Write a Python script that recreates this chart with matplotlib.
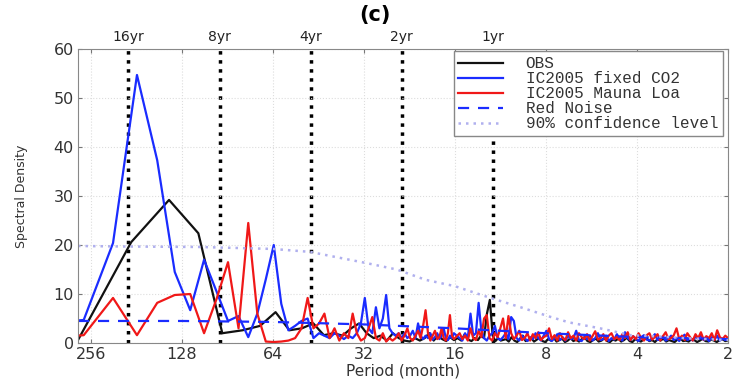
import numpy as np
import matplotlib.pyplot as plt
import matplotlib.transforms as mtransforms

# frequency grids: model runs (1080 months) and observations (564 months)
model_k = np.arange(3, 68)
obs_k = np.arange(2, 51)

# IC2005 fixed CO2 (blue), low-frequency bins k=3..67
blue_low = [4.0, 4.7, 20.4, 54.7, 37.3, 14.5, 6.7, 17.0, 10.5, 4.5,
            5.5, 1.2, 6.0, 13.0, 20.0, 8.0, 2.6, 3.5, 4.5, 5.0,
            1.0, 2.0, 1.5, 1.0, 2.0, 1.5, 0.8, 1.5, 1.0, 2.0,
            4.0, 9.2, 3.0, 2.0, 7.3, 3.0, 5.0, 9.8, 3.0, 2.0,
            1.5, 2.0, 1.0, 2.0, 1.0, 1.5, 2.5, 1.0, 4.0, 1.5,
            0.8, 1.5, 1.0, 2.0, 0.7, 1.2, 2.0, 0.8, 1.5, 3.0,
            1.0, 0.6, 1.5, 1.0, 2.0]
# high-frequency part (period 15.4 -> 2 months)
blue_high = [1.0, 0.5, 2.0, 1.0, 6.0, 1.5, 2.0, 8.2, 2.5, 1.0,
             0.5, 1.5, 2.0, 3.5, 1.0, 0.6, 1.2, 2.0, 0.8, 5.3,
             4.5, 1.0, 0.5, 1.5, 1.0, 0.4, 1.2, 0.8, 2.0, 1.0,
             0.5, 1.5, 2.5, 0.8, 0.4, 1.0, 1.8, 0.6, 1.2, 0.5,
             1.5, 0.8, 1.0, 2.5, 0.6, 0.4, 1.2, 0.8, 1.6, 0.5,
             1.0, 2.0, 0.6, 0.8, 1.5, 0.4, 1.0, 0.7, 1.8, 0.9,
             0.5, 2.2, 1.0, 0.6, 1.4, 0.8, 0.4, 1.2, 1.6, 0.7,
             0.5, 1.0, 1.8, 0.6, 0.9, 1.3, 0.5, 0.8, 1.5, 0.6,
             1.0, 0.4, 1.2, 1.7, 0.6, 0.9, 0.5, 1.3, 0.8, 1.6,
             0.6, 1.0, 0.4, 1.2, 0.7, 1.5, 0.5, 0.9, 0.6, 0.8]

# IC2005 Mauna Loa (red)
red_low = [1.0, 1.6, 9.2, 1.6, 8.2, 9.8, 10.0, 2.0, 9.0, 16.5,
           3.0, 24.5, 6.0, 0.3, 0.2, 0.3, 0.5, 1.0, 3.0, 9.2,
           3.0, 4.0, 6.0, 1.0, 3.0, 0.5, 2.0, 1.0, 6.0, 2.0,
           0.5, 1.0, 3.0, 5.3, 1.0, 0.5, 2.0, 0.3, 1.0, 0.5,
           1.0, 2.0, 0.5, 1.5, 3.0, 1.0, 0.5, 1.5, 2.5, 1.0,
           3.5, 6.7, 2.0, 0.5, 1.5, 2.5, 0.8, 1.2, 3.0, 1.0,
           0.5, 2.0, 5.7, 1.5, 0.8]
red_high = [2.0, 0.8, 1.5, 0.5, 3.0, 1.0, 0.6, 2.5, 1.2, 5.0,
            5.7, 1.0, 0.5, 2.0, 1.2, 3.0, 5.0, 1.0, 5.5, 2.0,
            0.8, 1.5, 2.5, 0.6, 1.0, 2.0, 0.5, 1.8, 1.0, 2.2,
            0.6, 1.2, 1.5, 3.0, 0.8, 1.6, 0.5, 2.0, 1.0, 0.6,
            2.2, 1.0, 1.5, 0.5, 2.0, 1.2, 0.8, 1.8, 0.5, 1.4,
            2.4, 0.7, 1.0, 1.8, 0.5, 1.5, 2.0, 0.8, 1.2, 0.6,
            1.8, 1.0, 2.2, 0.6, 1.4, 0.8, 2.0, 1.0, 0.5, 1.6,
            2.0, 0.7, 1.2, 1.8, 0.5, 1.4, 2.2, 0.8, 1.0, 1.6,
            3.0, 0.8, 1.5, 0.6, 2.0, 1.2, 0.5, 1.8, 1.0, 2.2,
            0.7, 1.4, 1.0, 2.0, 0.6, 2.6, 1.2, 0.8, 1.5, 1.0]

# OBS (black), k=2..50
obs_low = [0.6, 20.6, 29.2, 22.4, 2.0, 2.6, 3.5, 6.3, 2.6, 3.0,
           4.0, 1.6, 2.0, 1.5, 3.0, 4.0, 2.0, 1.0, 1.5, 0.5,
           2.0, 1.0, 0.5, 0.3, 1.0, 0.5, 1.0, 2.0, 0.5, 1.5,
           0.8, 0.4, 1.2, 0.6, 1.0, 0.5, 1.8, 0.7, 0.4, 1.0,
           0.6, 1.5, 1.0, 6.0, 8.8, 1.5, 0.4, 1.0, 0.5]
obs_high = [0.8, 0.3, 1.2, 0.5, 0.2, 0.9, 1.5, 0.4, 0.6, 1.0,
            0.3, 0.7, 1.2, 0.4, 0.2, 0.8, 0.5, 1.1, 0.3, 0.6,
            0.9, 0.2, 0.5, 1.0, 0.4, 0.7, 0.3, 0.8, 1.2, 0.4,
            0.2, 0.6, 0.9, 0.3, 0.5, 1.0, 0.4, 0.2, 0.7, 0.5,
            0.9, 0.3, 0.6, 1.1, 0.4, 0.2, 0.8, 0.5, 0.3, 0.7,
            1.0, 0.4, 0.6, 0.2, 0.8, 0.5, 0.9, 0.3, 0.6, 0.4,
            0.2, 0.7, 1.0, 0.4, 0.5, 0.3, 0.8, 0.6, 0.2, 0.5,
            0.9, 0.4, 0.3, 0.7, 0.5, 0.2, 0.6, 0.8, 0.4, 0.5]

# red noise and 90% confidence level
noise_period = [282, 128, 64, 32, 16, 8, 4, 2]
noise_val = [4.5, 4.5, 4.3, 3.8, 3.0, 2.0, 1.2, 0.8]
conf_period = [282, 200, 112, 64, 48.2, 40, 31.3, 24.9, 20, 16,
               12.2, 9.7, 7.7, 6.7, 5.3, 4.2, 3.3, 2.8, 2]
conf_val = [19.8, 19.7, 19.6, 19.2, 18.6, 17.6, 16.3, 15.0, 12.9, 11.6,
            9.2, 7.3, 5.3, 4.2, 3.0, 1.6, 1.3, 1.0, 0.6]

marker_period = [192, 96, 48, 24, 12]
marker_label = ['16yr', '8yr', '4yr', '2yr', '1yr']
xticks = [256, 128, 64, 32, 16, 8, 4, 2]

model_period = np.concatenate([1080.0 / model_k, np.geomspace(1080 / 70, 2, len(blue_high))])
obs_period = np.concatenate([564.0 / obs_k, np.geomspace(564 / 52, 2, len(obs_high))])

fig = plt.figure(figsize=(7.4, 3.83), dpi=100)
ax = fig.add_axes([0.1054, 0.1044, 0.8784, 0.7676])

ax.plot(obs_period, obs_low + obs_high, color='#111111', lw=1.6, label='OBS')
ax.plot(model_period, blue_low + blue_high, color='#1a2cff', lw=1.6, label='IC2005 fixed CO2')
ax.plot(model_period, red_low + red_high, color='#f01818', lw=1.6, label='IC2005 Mauna Loa')
ax.plot(noise_period, noise_val, color='#1a2cff', lw=1.6, ls=(0, (5, 4)), label='Red Noise')
ax.plot(conf_period, conf_val, color='#b0b0ee', lw=1.8, ls=(0, (1, 2)), label='90% confidence level')

trans = mtransforms.blended_transform_factory(ax.transData, ax.transAxes)
for p, lab in zip(marker_period, marker_label):
    ax.axvline(p, color='black', lw=2.5, ls=(0, (1, 1.6)), zorder=1)
    ax.text(p, 1.04, lab, transform=trans, ha='center', va='center', fontsize=10, color='#222222')

ax.set_xscale('log', base=2)
ax.set_xlim(282, 2)
ax.set_ylim(0, 60)
ax.set_xticks(xticks)
ax.set_xticklabels([str(t) for t in xticks])
ax.minorticks_off()
ax.set_yticks(range(0, 61, 10))
ax.tick_params(direction='in', top=True, right=True, length=3, labelsize=11.5,
               labelcolor='#333333', color='#777777', pad=3)
ax.grid(True, color='#dddddd', ls=':', lw=0.8)
for s in ax.spines.values():
    s.set_color('#888888')
    s.set_linewidth(0.8)

ax.set_xlabel('Period (month)', fontsize=11, color='#333333', labelpad=1)
ax.set_ylabel('Spectral Density', fontsize=9, color='#333333')
ax.yaxis.set_label_coords(-0.077, 0.5)

leg = ax.legend(loc='upper right', bbox_to_anchor=(0.992, 0.992), borderaxespad=0,
                prop={'family': 'Liberation Mono', 'size': 11.5}, handlelength=2.8,
                handletextpad=1.4, labelspacing=0.0, borderpad=0.3,
                fancybox=False, framealpha=1, edgecolor='#888888')
for t in leg.get_texts():
    t.set_color('#333333')

fig.text(0.506, 0.96, '(c)', ha='center', va='center', fontsize=15, fontweight='bold')

fig.savefig('out.png', dpi=100)
